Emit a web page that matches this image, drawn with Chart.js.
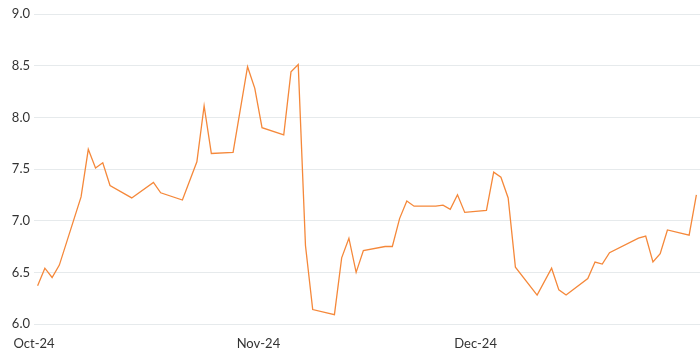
<!DOCTYPE html>
<html>
<head>
<meta charset="utf-8">
<script src="https://cdn.jsdelivr.net/npm/chart.js@4.4.1/dist/chart.umd.min.js"></script>
<style>
  html, body { margin: 0; padding: 0; background: #fff; }
  #wrap { width: 700px; height: 350px; position: relative; }
</style>
</head>
<body>
<div id="wrap"><canvas id="linechart"></canvas></div>
<script>
// Trading days (weekdays) and the values
const dates = [
    '2024-10-01', '2024-10-02', '2024-10-03', '2024-10-04', '2024-10-07', '2024-10-08', '2024-10-09',
    '2024-10-10', '2024-10-11', '2024-10-14', '2024-10-17', '2024-10-18', '2024-10-21', '2024-10-23',
    '2024-10-24', '2024-10-25', '2024-10-28', '2024-10-30', '2024-10-31', '2024-11-01', '2024-11-04',
    '2024-11-05', '2024-11-06', '2024-11-07', '2024-11-08', '2024-11-11', '2024-11-12', '2024-11-13',
    '2024-11-14', '2024-11-15', '2024-11-18', '2024-11-19', '2024-11-20', '2024-11-21', '2024-11-22',
    '2024-11-25', '2024-11-26', '2024-11-27', '2024-11-28', '2024-11-29', '2024-12-02', '2024-12-03',
    '2024-12-04', '2024-12-05', '2024-12-06', '2024-12-09', '2024-12-11', '2024-12-12', '2024-12-13',
    '2024-12-16', '2024-12-17', '2024-12-18', '2024-12-19', '2024-12-23', '2024-12-24', '2024-12-25',
    '2024-12-26', '2024-12-27', '2024-12-30', '2024-12-31'
];
const values = [
    6.37, 6.54, 6.45, 6.57, 7.23, 7.69, 7.51,
    7.56, 7.34, 7.22, 7.37, 7.27, 7.20, 7.57,
    8.11, 7.65, 7.66, 8.49, 8.28, 7.90, 7.83,
    8.44, 8.51, 6.76, 6.14, 6.09, 6.64, 6.83,
    6.50, 6.71, 6.75, 6.75, 7.02, 7.19, 7.14,
    7.14, 7.15, 7.11, 7.25, 7.08, 7.10, 7.47,
    7.42, 7.22, 6.55, 6.28, 6.54, 6.33, 6.28,
    6.44, 6.60, 6.58, 6.69, 6.83, 6.85, 6.60,
    6.68, 6.91, 6.86, 7.25
];

// Month tick labels
const tickDates = ['2024-10-01', '2024-11-01', '2024-12-01'];
const tickLabels = ['Oct-24', 'Nov-24', 'Dec-24'];

const startDay = Date.UTC(2024, 9, 1);
function dayIndex(s) {
    const p = s.split('-');
    return Math.round((Date.UTC(+p[0], +p[1] - 1, +p[2]) - startDay) / 86400000);
}

// month ticks sit half a day before the first of the month
const tickPositions = tickDates.map(d => dayIndex(d) - 0.5);

const ctx = document.getElementById('linechart').getContext('2d');

const linechart = new Chart(ctx, {
    type: 'line',
    data: {
        datasets: [{
            data: dates.map((d, i) => ({ x: dayIndex(d), y: values[i] })),
            borderColor: '#f5883a',
            borderWidth: 1.3,
            pointRadius: 0,
            tension: 0,
            fill: false
        }]
    },
    options: {
        responsive: true,
        maintainAspectRatio: false,
        animation: false,
        layout: {
            padding: { top: 14, right: 0, left: 0, bottom: 0 }
        },
        plugins: {
            legend: { display: false },
            tooltip: { enabled: false }
        },
        scales: {
            x: {
                type: 'linear',
                min: -0.5,
                max: dayIndex('2024-12-31') + 0.5,
                grid: { display: false },
                border: { display: false },
                afterBuildTicks: function (scale) {
                    scale.ticks = tickPositions.map(v => ({ value: v }));
                },
                afterFit: function (scale) {
                    scale.height = 26;
                },
                ticks: {
                    autoSkip: false,
                    maxRotation: 0,
                    padding: 4,
                    color: '#333',
                    font: { family: 'Lato', size: 13 },
                    callback: function (value) {
                        const i = tickPositions.indexOf(value);
                        return i >= 0 ? tickLabels[i] : '';
                    }
                }
            },
            y: {
                min: 6,
                max: 9,
                grid: {
                    color: '#e6eaec',
                    lineWidth: 1,
                    drawTicks: false
                },
                border: { display: false },
                afterFit: function (scale) {
                    scale.width = 34;
                },
                ticks: {
                    stepSize: 0.5,
                    padding: 4,
                    color: '#333',
                    font: { family: 'Lato', size: 13 },
                    callback: function (value) {
                        return value.toFixed(1);
                    }
                }
            }
        }
    }
});
</script>
</body>
</html>
